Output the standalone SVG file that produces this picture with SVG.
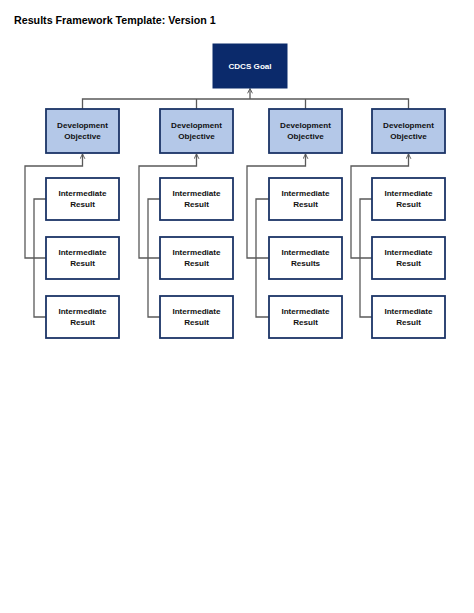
<svg xmlns="http://www.w3.org/2000/svg" width="474" height="613" viewBox="0 0 474 613">
<style>
.title{font-family:"Liberation Sans",Arial,sans-serif;font-weight:bold;font-size:10.7px;fill:#000}
.goal rect{fill:#0b2a6b;stroke:#0b2a6b;stroke-width:1}
.goal text{fill:#fff}
.do rect{fill:#b4c8e8;stroke:#1b3466;stroke-width:1.8}
.ir rect{fill:#fff;stroke:#1b3466;stroke-width:1.8}
text.t{font-family:"Liberation Sans",Arial,sans-serif;font-weight:bold;font-size:8.1px;fill:#111;text-anchor:middle}
.conn path{fill:none;stroke:#595959;stroke-width:1.3}
</style>
<defs>
<marker id="arr" viewBox="0 0 10 10" refX="9" refY="5" markerWidth="6" markerHeight="6" markerUnits="userSpaceOnUse" orient="auto">
<path d="M1,1 L9,5 L1,9" fill="none" stroke="#595959" stroke-width="1.6"/>
</marker>
</defs>
<rect width="474" height="613" fill="#fff"/>
<text class="title" x="14" y="23.5">Results Framework Template: Version 1</text>

<g id="connectors" class="conn">
<path d="M82.5,109 V99 H408.5 V109"/>
<path d="M196.5,109 V99"/>
<path d="M305.5,109 V99"/>
<path d="M250,99 V88.5" marker-end="url(#arr)"/>

<path d="M46,258 H25 V166 H82.5 V154" marker-end="url(#arr)"/>
<path d="M46,199 H34 V317 H46"/>
<path d="M160,258 H139 V166 H196.5 V154" marker-end="url(#arr)"/>
<path d="M160,199 H148 V317 H160"/>
<path d="M269,258 H247 V166 H305.5 V154" marker-end="url(#arr)"/>
<path d="M269,199 H256 V317 H269"/>
<path d="M372,258 H351 V166 H408.5 V154" marker-end="url(#arr)"/>
<path d="M372,199 H360 V317 H372"/>
</g>

<g id="goal" class="goal"><rect x="213" y="44" width="74" height="44"/><text class="t" x="250" y="69" style="fill:#fff">CDCS Goal</text></g>

<g id="do1" class="do"><rect x="46" y="109" width="73" height="44"/><text class="t" x="82.5" y="128">Development</text><text class="t" x="82.5" y="139">Objective</text></g>
<g id="do2" class="do"><rect x="160" y="109" width="73" height="44"/><text class="t" x="196.5" y="128">Development</text><text class="t" x="196.5" y="139">Objective</text></g>
<g id="do3" class="do"><rect x="269" y="109" width="73" height="44"/><text class="t" x="305.5" y="128">Development</text><text class="t" x="305.5" y="139">Objective</text></g>
<g id="do4" class="do"><rect x="372" y="109" width="73" height="44"/><text class="t" x="408.5" y="128">Development</text><text class="t" x="408.5" y="139">Objective</text></g>

<g id="ir1a" class="ir"><rect x="46" y="178" width="73" height="42"/><text class="t" x="82.5" y="196">Intermediate</text><text class="t" x="82.5" y="207">Result</text></g>
<g id="ir1b" class="ir"><rect x="46" y="237" width="73" height="42"/><text class="t" x="82.5" y="255">Intermediate</text><text class="t" x="82.5" y="266">Result</text></g>
<g id="ir1c" class="ir"><rect x="46" y="296" width="73" height="42"/><text class="t" x="82.5" y="314">Intermediate</text><text class="t" x="82.5" y="325">Result</text></g>

<g id="ir2a" class="ir"><rect x="160" y="178" width="73" height="42"/><text class="t" x="196.5" y="196">Intermediate</text><text class="t" x="196.5" y="207">Result</text></g>
<g id="ir2b" class="ir"><rect x="160" y="237" width="73" height="42"/><text class="t" x="196.5" y="255">Intermediate</text><text class="t" x="196.5" y="266">Result</text></g>
<g id="ir2c" class="ir"><rect x="160" y="296" width="73" height="42"/><text class="t" x="196.5" y="314">Intermediate</text><text class="t" x="196.5" y="325">Result</text></g>

<g id="ir3a" class="ir"><rect x="269" y="178" width="73" height="42"/><text class="t" x="305.5" y="196">Intermediate</text><text class="t" x="305.5" y="207">Result</text></g>
<g id="ir3b" class="ir"><rect x="269" y="237" width="73" height="42"/><text class="t" x="305.5" y="255">Intermediate</text><text class="t" x="305.5" y="266">Results</text></g>
<g id="ir3c" class="ir"><rect x="269" y="296" width="73" height="42"/><text class="t" x="305.5" y="314">Intermediate</text><text class="t" x="305.5" y="325">Result</text></g>

<g id="ir4a" class="ir"><rect x="372" y="178" width="73" height="42"/><text class="t" x="408.5" y="196">Intermediate</text><text class="t" x="408.5" y="207">Result</text></g>
<g id="ir4b" class="ir"><rect x="372" y="237" width="73" height="42"/><text class="t" x="408.5" y="255">Intermediate</text><text class="t" x="408.5" y="266">Result</text></g>
<g id="ir4c" class="ir"><rect x="372" y="296" width="73" height="42"/><text class="t" x="408.5" y="314">Intermediate</text><text class="t" x="408.5" y="325">Result</text></g>
</svg>
